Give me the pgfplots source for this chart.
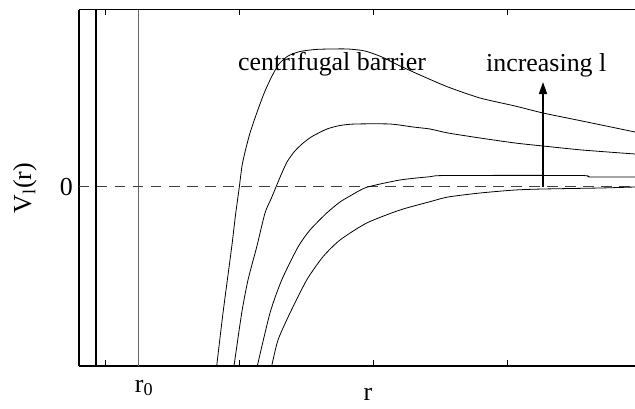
\documentclass[border=0pt]{standalone}
\usepackage{fontspec}
\setmainfont{Liberation Serif}
\usepackage{pgfplots}
\pgfplotsset{compat=1.18}
\usetikzlibrary{calc,arrows.meta}
\begin{document}
\fontsize{26}{30}\selectfont
\begin{tikzpicture}
\begin{axis}[name=a, at={(0,0)}, anchor=south west,
  width=556bp, height=356.5bp, scale only axis,
  xmin=79, xmax=635, ymin=9.5, ymax=366, y dir=reverse,
  axis x line*=box, axis y line*=left,
  axis line style={line width=1.4bp},
  xtick={106,239,373,507}, xticklabels={},
  xtick pos=both,
  ytick={186.7}, yticklabels={0},
  tick align=inside, major tick length=5.7bp,
  x tick style={line width=1bp, black},
  y tick style={draw=none},
  yticklabel style={font=\fontsize{26}{30}\selectfont, inner xsep=6bp},
  /pgf/number format/assume math mode=true,
  clip mode=individual,
  every axis plot/.append style={black, line width=0.8bp, no markers},
]
% walls
\addplot[line width=2.6bp] coordinates {(96,9.5) (96,366)};
\addplot[black!60, line width=1.2bp] coordinates {(138.7,9.5) (138.7,366)};
\addplot[black!75, line width=1bp, dash pattern=on 10.5bp off 7.5bp] coordinates {(79,186.7) (635,186.7)};
% curve 1 (highest l)
\addplot[smooth, tension=0.4] coordinates {(216.7,366) (223,313) (231.7,247) (235.5,215) (239.3,187) (242,166) (245.5,150) (250,133) (255,118) (260,104) (265,91) (272,76) (279,64) (288,56) (300,51.5) (315,49.5) (330,49) (348,49) (365,51) (382,57) (398,65) (420,75) (448,87) (480,98) (515,106) (543,113) (582,121) (635,132)};
% curve 2
\addplot[smooth, tension=0.4] coordinates {(234,366) (241.7,313) (248,280) (256.7,247) (265,213) (271,199) (276,187) (281,175) (287,162) (294,152) (302,144) (312,136.5) (327,129) (340,125.5) (355,124) (390,124) (413,127) (430,129) (448,133) (480,138) (515,143) (543,146) (582,150) (635,154)};
% curve 3
\addplot[smooth, tension=0.4] coordinates {(257.3,366) (270,313) (281.7,280) (298,247) (310,230) (326.7,213) (340,202) (350,196) (366.7,187.3) (400,180) (430,176.7) (447,175.5) (580,175.5) (590,177) (635,177)};
% curve 4 (l = 0)
\addplot[smooth, tension=0.4] coordinates {(271.7,366) (278,340) (290,313) (306.7,280) (323,256.7) (340,240) (366.7,223) (400,210) (430,201.7) (448,197) (480,193) (515,190) (543,189) (600,188) (635,187)};
% top frame line
\draw[line width=1.4bp] (axis cs:79,9.5) -- (axis cs:635,9.5);
% annotations
\draw[-{Triangle[length=12bp,width=8bp]}, line width=1.5bp] (axis cs:543,186.7) -- (axis cs:543,82);
\node[anchor=base west, inner sep=0pt] at (axis cs:238,70.7) {centrifugal barrier};
\node[anchor=base west, inner sep=0pt] at (axis cs:486,71.7) {increasing l};
\node[anchor=base, inner sep=0pt] at (axis cs:144,392) {r\textsubscript{0}};
\node[anchor=base, inner sep=0pt] at (axis cs:368,400) {r};
\node[rotate=90, inner sep=0pt] at (axis cs:25,188) {V\textsubscript{l}(r)};
\end{axis}
\pgfresetboundingbox
\path[use as bounding box] ($(a.south west)+(-79bp,-43bp)$) rectangle ($(a.north east)+(0,9.5bp)$);
\end{tikzpicture}
\end{document}
